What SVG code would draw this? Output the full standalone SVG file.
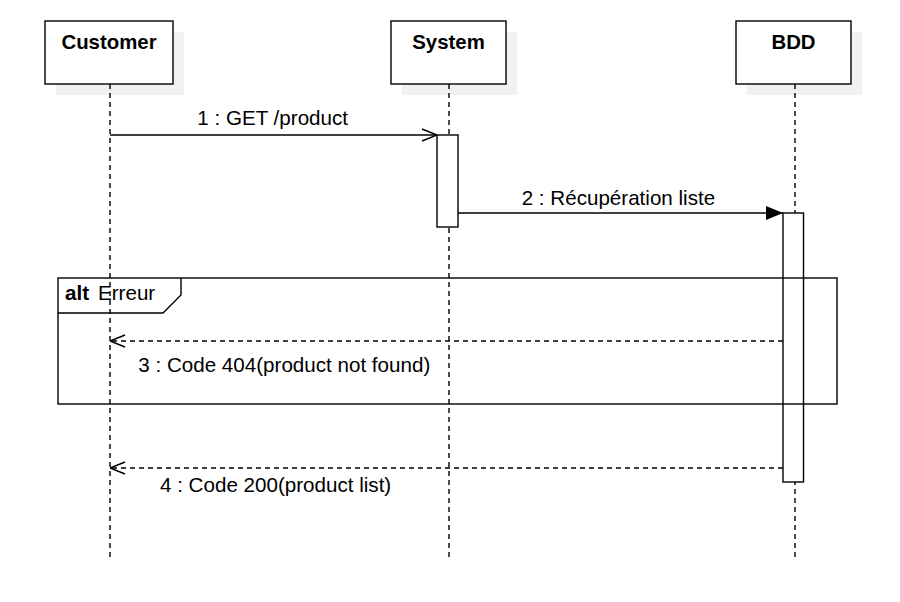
<svg xmlns="http://www.w3.org/2000/svg" width="900" height="602" viewBox="0 0 900 602">
<defs>
<style>
.shadow{fill:#f1f1f1;stroke:none}
.box{fill:#fff;stroke:#000;stroke-width:1.4}
.hdr{font-family:"Liberation Sans",Arial,sans-serif;font-size:20.4px;font-weight:bold;fill:#000;text-anchor:middle}
.lbl{font-family:"Liberation Sans",Arial,sans-serif;font-size:20.6px;fill:#000}
.life{stroke:#000;stroke-width:1.4;stroke-dasharray:5 4;fill:none}
.msg{stroke:#000;stroke-width:1.4;fill:none}
.ret{stroke:#000;stroke-width:1.4;stroke-dasharray:5 4;fill:none}
.act{fill:#fff;stroke:#000;stroke-width:1.4}
.frame{fill:none;stroke:#000;stroke-width:1.4}
</style>
<marker id="open" viewBox="0 0 16 14" refX="16" refY="7" markerWidth="16" markerHeight="14" markerUnits="userSpaceOnUse" orient="auto">
<path d="M1,1 L16,7 L1,13" fill="none" stroke="#000" stroke-width="1.4"/>
</marker>
<marker id="filled" viewBox="0 0 17 14" refX="17" refY="7" markerWidth="17" markerHeight="14" markerUnits="userSpaceOnUse" orient="auto">
<path d="M0,0 L17,7 L0,14 Z" fill="#000" stroke="none"/>
</marker>
</defs>
<rect width="900" height="602" fill="#fff"/>

<g id="customer">
<rect class="shadow" x="56" y="32" width="128" height="63"/>
<line class="life" x1="110" y1="84" x2="110" y2="558"/>
<rect class="box" x="45" y="21" width="128" height="63"/>
<text class="hdr" x="109" y="48.5">Customer</text>
</g>

<g id="system">
<rect class="shadow" x="402" y="32" width="115" height="63"/>
<line class="life" x1="449" y1="84" x2="449" y2="558"/>
<rect class="box" x="391" y="21" width="115" height="63"/>
<text class="hdr" x="448.5" y="48.5">System</text>
</g>

<g id="bdd">
<rect class="shadow" x="747" y="32" width="115" height="63"/>
<line class="life" x1="795" y1="84" x2="795" y2="558"/>
<rect class="box" x="736" y="21" width="115" height="63"/>
<text class="hdr" x="793.5" y="48.5">BDD</text>
</g>

<g id="system-activation">
<rect class="act" x="437" y="135" width="21" height="92"/>
</g>

<g id="bdd-activation">
<rect class="act" x="783" y="213" width="20.5" height="269"/>
</g>

<g id="alt-frame">
<rect class="frame" x="58" y="278" width="779" height="126"/>
<path class="frame" d="M58,313 L163,313 L181,295 L181,278"/>
<text class="lbl" x="65" y="300" font-weight="bold">alt</text>
<text class="lbl" x="98" y="300">Erreur</text>
</g>

<g id="connectors">
<line class="msg" x1="110" y1="135" x2="437" y2="135" marker-end="url(#open)"/>
<text class="lbl" x="197.3" y="125">1 : GET /product</text>
<line class="msg" x1="458" y1="213" x2="783" y2="213" marker-end="url(#filled)"/>
<text class="lbl" x="521.7" y="205">2 : Récupération liste</text>
<line class="ret" x1="783" y1="341" x2="110" y2="341" marker-end="url(#open)"/>
<text class="lbl" x="138.3" y="372.3">3 : Code 404(product not found)</text>
<line class="ret" x1="783" y1="468" x2="110" y2="468" marker-end="url(#open)"/>
<text class="lbl" x="160" y="492.3">4 : Code 200(product list)</text>
</g>
</svg>
